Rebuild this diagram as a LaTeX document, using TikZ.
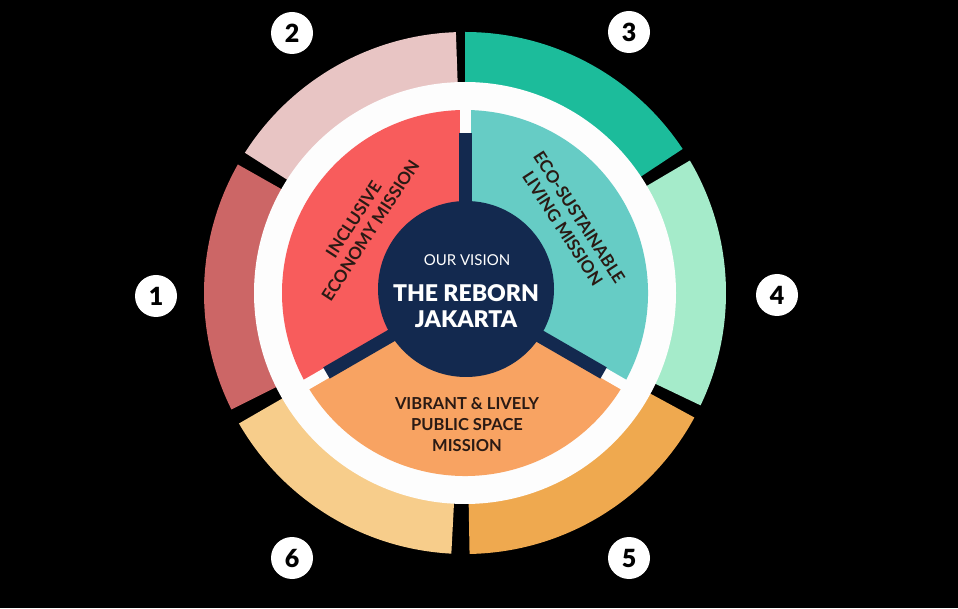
\documentclass[tikz,border=0pt]{standalone}
\usepackage{fontspec}
\setmainfont{Lato}
\newfontfamily\latoblack{Lato Black}
\usetikzlibrary{positioning}
\definecolor{segA}{HTML}{CC6666}
\definecolor{segB}{HTML}{E8C5C4}
\definecolor{segC}{HTML}{1CBC9B}
\definecolor{segD}{HTML}{A5EBCA}
\definecolor{segE}{HTML}{EFA94F}
\definecolor{segF}{HTML}{F7CD8B}
\definecolor{misRed}{HTML}{F85C5C}
\definecolor{misTeal}{HTML}{66CCC5}
\definecolor{misOrange}{HTML}{F8A362}
\definecolor{navy}{HTML}{13294F}
\definecolor{ringwhite}{HTML}{FDFDFD}
\definecolor{inkdark}{HTML}{2A1A14}

\begin{document}
\begin{tikzpicture}[x=1pt,y=1pt,
  numdot/.style={circle,fill=white,minimum size=42pt,inner sep=0pt,font=\fontsize{25}{25}\selectfont\latoblack},
  mlabel/.style={align=center,text=inkdark,font=\fontsize{17}{20}\selectfont\bfseries}]
% background
\fill[black] (0,0) rectangle (958,608);
\useasboundingbox (0,0) rectangle (958,608);
\begin{scope}[shift={(465,315)}]
% outer ring segments
\foreach \a/\b/\c in {150.5/206.5/segA,92/147.5/segB,33.5/90/segC,-25.5/30.5/segD,-89/-28.5/segE,210/267/segF} {
  \fill[\c] (\a:205pt) arc (\a:\b:205pt) -- (\b:261pt) arc (\b:\a:261pt) -- cycle;
}
% white disc
\fill[ringwhite] (0,0) circle (211pt);
% mission sectors
\foreach \a/\c in {90/misRed,-30/misTeal,210/misOrange} {
  \fill[\c] (0,0) -- (\a:183pt) arc (\a:\a+120:183pt) -- cycle;
}
% spokes
\foreach \a in {90,210,330} {
  \draw[ringwhite,line width=11pt] (0,0) -- (\a:185pt);
  \draw[navy,line width=13pt] (0,0) -- (\a:160pt);
}
\fill[navy] (1,4) circle (88pt);
\end{scope}
% vision
\node[text=white,font=\fontsize{15}{15}\selectfont] (vision) at (467,348) {OUR VISION};
\node[text=white,align=center,font=\fontsize{23}{26}\selectfont\latoblack] (reborn) at (466,302) {THE REBORN\\JAKARTA};
% missions
\node[mlabel,rotate=57] (inclusive) at (362,383) {INCLUSIVE\\ECONOMY MISSION};
\node[mlabel,rotate=-57] (eco) at (571,385) {ECO-SUSTAINABLE\\LIVING MISSION};
\node[mlabel,font=\fontsize{16.5}{21}\selectfont\bfseries] (vibrant) at (467,183) {VIBRANT \& LIVELY\\PUBLIC SPACE\\MISSION};
% numbers
\foreach \n/\x/\y in {1/156/312,2/292/575,3/629/576,4/777/313,5/629/50,6/292/50} {
  \node[numdot] (n\n) at (\x,\y) {\n};
}
\end{tikzpicture}
\end{document}
